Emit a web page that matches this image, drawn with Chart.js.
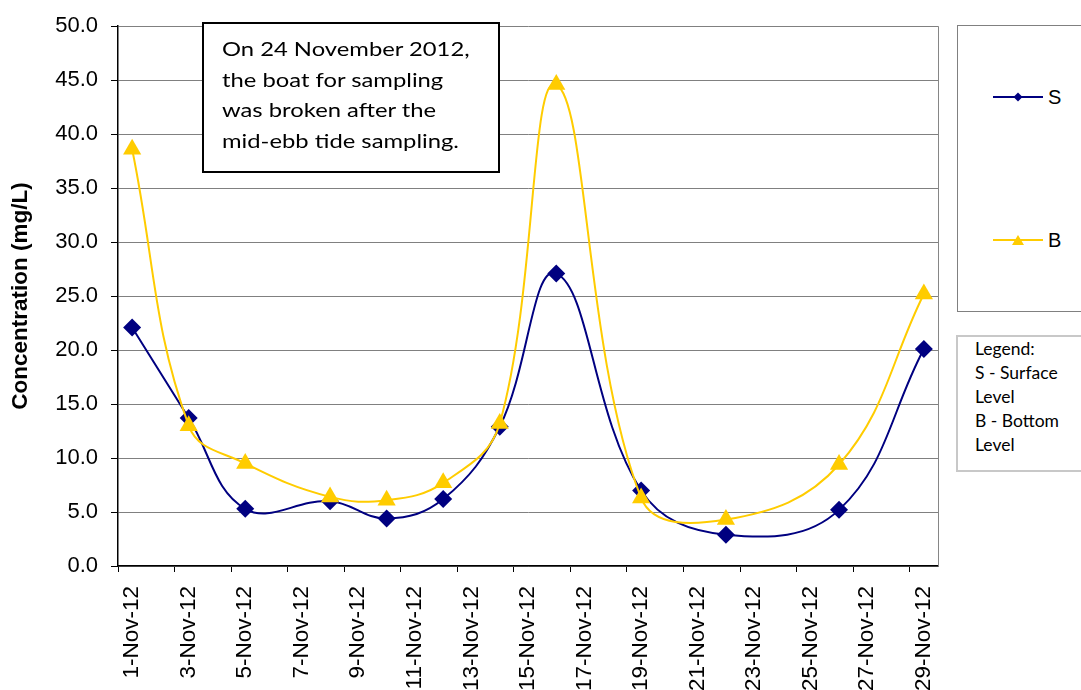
<!DOCTYPE html>
<html>
<head>
<meta charset="utf-8">
<script src="https://cdn.jsdelivr.net/npm/chart.js@4.4.0/dist/chart.umd.min.js"></script>
<style>
    body { margin: 0; background: #fff; }
    #wrap { position: relative; width: 1081px; height: 690px; overflow: hidden; }
    #chart { position: absolute; left: 0; top: 0; }
    .note {
        position: absolute; left: 202px; top: 22px; width: 298px; height: 151px;
        border: 2px solid #000; background: #fff; box-sizing: border-box;
        padding: 10px 0 0 18px; font-family: Lato, 'Open Sans', sans-serif; font-size: 19.5px;
        line-height: 30.7px; color: #000; white-space: nowrap;
    }
    .note div { transform: scaleX(1.22); transform-origin: left top; }
    .legend-box {
        position: absolute; left: 957px; top: 25px; width: 140px; height: 287px;
        border: 1px solid #808080; box-sizing: border-box; background: #fff;
    }
    .legend-item { position: absolute; font-family: 'Liberation Sans', Arial, sans-serif; font-size: 20px; line-height: 20px; }
    .key-box {
        position: absolute; left: 956px; top: 335px; width: 140px; height: 137px;
        border: 2px solid #c8c8c8; box-sizing: border-box; background: #fff;
        padding: 0 0 0 17px; font-family: Lato, 'Open Sans', sans-serif; font-size: 17.5px; line-height: 24px; color: #000;
    }
</style>
</head>
<body>
<div id="wrap">
    <canvas id="chart" width="1081" height="690"></canvas>
    <div class="note"><div>On 24 November 2012,<br>the boat for sampling<br>was broken after the<br>mid-ebb tide sampling.</div></div>
    <div class="legend-box"></div>
    <svg style="position:absolute;left:0;top:0" width="1081" height="690">
        <line x1="993" y1="97" x2="1043" y2="97" stroke="#000080" stroke-width="2"/>
        <polygon points="1018,92.5 1022.5,97 1018,101.5 1013.5,97" fill="#000080"/>
        <line x1="993" y1="240" x2="1043" y2="240" stroke="#FFCC00" stroke-width="2"/>
        <polygon points="1018,235 1024,245 1012,245" fill="#FFCC00"/>
    </svg>
    <div class="legend-item" style="left:1048px;top:87px">S</div>
    <div class="legend-item" style="left:1048px;top:230px">B</div>
    <div class="key-box">Legend:<br>S - Surface<br>Level<br>B - Bottom<br>Level</div>
</div>
<script>
// sampling days (November 2012)
const sampleDays = [1, 3, 5, 8, 10, 12, 14, 16, 19, 22, 26, 29];
// S - surface level (mg/L)
const surfaceValues = [22.1, 13.7, 5.3, 6.0, 4.4, 6.2, 12.9, 27.1, 7.0, 2.9, 5.2, 20.1];
// B - bottom level (mg/L)
const bottomValues = [38.6, 13.0, 9.5, 6.4, 6.1, 7.7, 13.2, 44.6, 6.3, 4.3, 9.4, 25.2];

// x axis labels
const labelDays = [1, 3, 5, 7, 9, 11, 13, 15, 17, 19, 21, 23, 25, 27, 29];
const tickLabels = ['1-Nov-12', '3-Nov-12', '5-Nov-12', '7-Nov-12', '9-Nov-12', '11-Nov-12', '13-Nov-12',
    '15-Nov-12', '17-Nov-12', '19-Nov-12', '21-Nov-12', '23-Nov-12', '25-Nov-12', '27-Nov-12', '29-Nov-12'];

// gray border on the right side of the plot area
const plotBorder = {
    id: 'plotBorder',
    beforeDatasetsDraw(chart) {
        const {ctx, chartArea} = chart;
        ctx.save();
        ctx.strokeStyle = '#868686';
        ctx.lineWidth = 1;
        ctx.beginPath();
        ctx.moveTo(chartArea.right + 0.5, chartArea.top);
        ctx.lineTo(chartArea.right + 0.5, chartArea.bottom);
        ctx.stroke();
        ctx.restore();
    }
};

Chart.defaults.font.family = "'Liberation Sans', Arial, sans-serif";
Chart.defaults.color = '#000';

new Chart(document.getElementById('chart'), {
    type: 'line',
    data: {
        datasets: [
            {
                label: 'S',
                data: sampleDays.map((d, i) => ({ x: d, y: surfaceValues[i] })),
                borderColor: '#000080',
                backgroundColor: '#000080',
                borderWidth: 2,
                pointStyle: 'rectRot',
                pointRadius: 9,
                pointBorderWidth: 0,
                tension: 0.4,
                order: 1
            },
            {
                label: 'B',
                data: sampleDays.map((d, i) => ({ x: d, y: bottomValues[i] })),
                borderColor: '#FFCC00',
                backgroundColor: '#FFCC00',
                borderWidth: 2,
                pointStyle: 'triangle',
                pointRadius: 10.5,
                pointBorderWidth: 0,
                tension: 0.4,
                order: 0
            }
        ]
    },
    options: {
        responsive: false,
        animation: false,
        layout: { padding: { top: 16, right: 143, left: 0, bottom: 0 } },
        plugins: {
            legend: { display: false },
            tooltip: { enabled: false }
        },
        scales: {
            x: {
                type: 'linear',
                min: 0.5,
                max: 29.5,
                afterBuildTicks: scale => {
                    scale.ticks = labelDays.map(d => ({ value: d - 0.5 }));
                },
                afterFit: scale => { scale.height = 124; },
                grid: { drawOnChartArea: false, tickLength: 6, tickColor: '#000' },
                border: { color: '#000', width: 1.5 },
                ticks: {
                    autoSkip: false,
                    minRotation: 90,
                    maxRotation: 90,
                    labelOffset: 14,
                    padding: 14,
                    font: { size: 22.5 },
                    callback: (value, index) => tickLabels[index]
                }
            },
            y: {
                min: 0,
                max: 50,
                afterFit: scale => { scale.width = 118; },
                grid: { color: '#808080', tickLength: 7, tickColor: '#000' },
                border: { color: '#000', width: 1.5 },
                ticks: {
                    stepSize: 5,
                    padding: 13,
                    font: { size: 22 },
                    callback: value => value.toFixed(1)
                },
                title: {
                    display: true,
                    text: 'Concentration (mg/L)',
                    font: { size: 22.5, weight: 'bold' },
                    padding: { top: 7, bottom: 0 }
                }
            }
        }
    },
    plugins: [plotBorder]
});
</script>
</body>
</html>
